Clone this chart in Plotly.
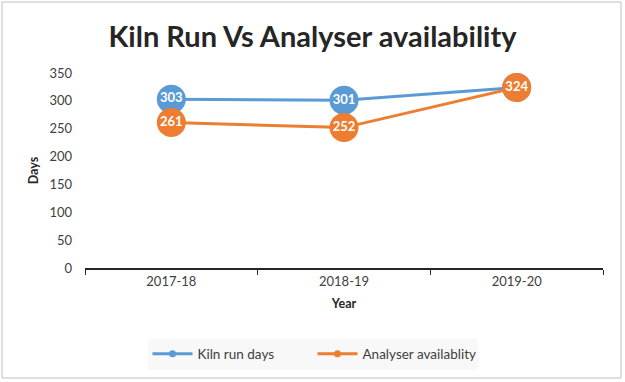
import plotly.graph_objects as go

categories = ["2017-18", "2018-19", "2019-20"]
kiln_run_days = [303, 301, 324]
analyser_availability = [261, 252, 324]
y_ticks = [0, 50, 100, 150, 200, 250, 300, 350]

BLUE = "#5B9BD5"
ORANGE = "#ED7D31"
FONT = "Lato"

series = [("Kiln run days", kiln_run_days, BLUE),
          ("Analyser availablity", analyser_availability, ORANGE)]

fig = go.Figure()
for name, vals, col in series:
    fig.add_trace(go.Scatter(
        x=categories, y=vals, name=name, showlegend=False,
        mode="lines+markers+text",
        line=dict(color=col, width=3),
        marker=dict(color=col, size=29),
        text=[str(v) for v in vals], textposition="middle center",
        textfont=dict(family=FONT, size=13, color="white", weight="bold"),
    ))
# legend entries with small markers (as in the reference legend)
for name, vals, col in series:
    fig.add_trace(go.Scatter(
        x=[None], y=[None], name=name, mode="lines+markers",
        line=dict(color=col, width=3), marker=dict(color=col, size=7),
    ))

L, R, T, B = 85, 22, 73, 114
pw, ph = 625 - L - R, 382 - T - B

fig.update_layout(
    width=625, height=382,
    paper_bgcolor="white", plot_bgcolor="white",
    margin=dict(l=L, r=R, t=T, b=B, autoexpand=False),
    font=dict(family=FONT, color="#404040"),
    title=dict(text="<b>Kiln Run Vs Analyser availability</b>", x=0.5, xanchor="center",
               xref="container", yref="container",
               y=1 - 37 / 382, yanchor="middle", font=dict(family=FONT, size=29, color="#262626")),
    showlegend=True,
    legend=dict(orientation="h", x=0.5, xanchor="center", xref="container",
                yref="container", y=1 - 354 / 382, yanchor="middle",
                bgcolor="#F8F8F8", font=dict(family=FONT, size=13.5, color="#404040"),
                itemwidth=40, traceorder="normal", entrywidth=110),
    shapes=[dict(type="rect", xref="paper", yref="paper",
                 x0=(2 - L) / pw, x1=(621 - L) / pw,
                 y0=-(378 - (382 - B)) / ph, y1=((382 - B) - 2) / ph,
                 line=dict(color="#BFBFBF", width=1), fillcolor="rgba(0,0,0,0)")],
)
fig.update_xaxes(
    type="category", range=[-0.5, 2.5], automargin=False,
    showline=True, linecolor="#262626", linewidth=2,
    ticks="outside", tickson="boundaries", ticklen=5, tickcolor="#262626",
    tickfont=dict(family=FONT, size=13, color="#404040"),
    title=dict(text="<b>Year</b>", font=dict(family=FONT, size=12.5, color="#262626"), standoff=12),
    showgrid=False,
)
fig.update_yaxes(
    range=[0, 350], tickvals=y_ticks, showgrid=False, showline=False, zeroline=False,
    automargin=False, ticklabelstandoff=12,
    tickfont=dict(family=FONT, size=13, color="#404040"),
    title=dict(text="<b>Days</b>", font=dict(family=FONT, size=12.5, color="#262626"), standoff=8),
)

fig.write_html("out.html", config={"displayModeBar": False},
               post_script="document.body.style.margin='0';")
